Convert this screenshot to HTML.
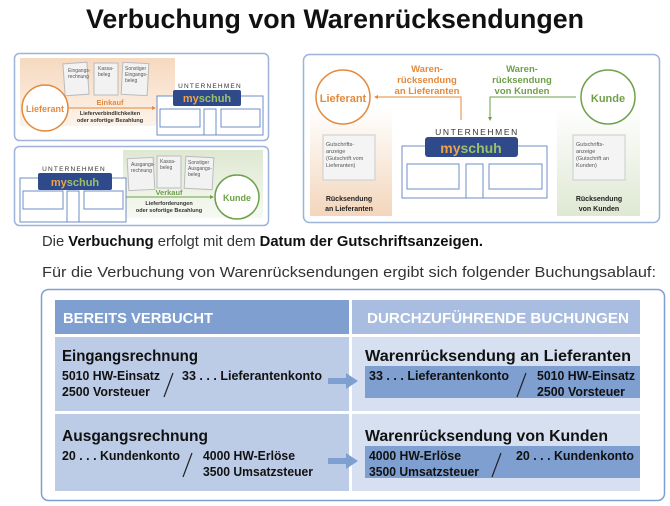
<!DOCTYPE html>
<html><head><meta charset="utf-8"><style>
html,body{margin:0;padding:0;background:#fff;}
svg{display:block;font-family:"Liberation Sans",sans-serif;}
</style></head><body>
<svg width="670" height="506" viewBox="0 0 670 506" xmlns="http://www.w3.org/2000/svg">
<defs>
<linearGradient id="pe" x1="0" y1="0" x2="0" y2="1"><stop offset="0" stop-color="#f6d9bf"/><stop offset="1" stop-color="#fdf3ea"/></linearGradient>
<linearGradient id="pe2" x1="0" y1="0" x2="1" y2="0"><stop offset="0" stop-color="#f6dcc3"/><stop offset="1" stop-color="#fff8f2"/></linearGradient>
<linearGradient id="gr" x1="0" y1="0" x2="0" y2="1"><stop offset="0" stop-color="#dfe8d2"/><stop offset="1" stop-color="#f6f9f2"/></linearGradient>
<linearGradient id="pv" x1="0" y1="0" x2="0" y2="1"><stop offset="0" stop-color="#fff"/><stop offset="1" stop-color="#f3d6bc"/></linearGradient>
<linearGradient id="gv" x1="0" y1="0" x2="0" y2="1"><stop offset="0" stop-color="#fff"/><stop offset="1" stop-color="#dfe8d3"/></linearGradient>
</defs>
<text x="335" y="28" text-anchor="middle" font-size="27" font-weight="bold" fill="#111" textLength="498" lengthAdjust="spacingAndGlyphs">Verbuchung von Warenrücksendungen</text>

<!-- Panel 1 -->
<rect x="14.5" y="53.5" width="254" height="87" rx="5" fill="#fff" stroke="#9db3da" stroke-width="1.5"/>
<rect x="20" y="58" width="155" height="68" fill="url(#pe)"/>
<g font-size="5" fill="#555">
<rect x="64" y="63" width="24" height="32" fill="#f2f2f2" stroke="#bbb" transform="rotate(-4 76 79)"/><text x="68" y="72">Eingangs-</text><text x="68" y="78">rechnung</text>
<rect x="94" y="63" width="24" height="32" fill="#f2f2f2" stroke="#bbb"/><text x="98" y="70">Kassa-</text><text x="98" y="76">beleg</text>
<rect x="122" y="63" width="26" height="32" fill="#f2f2f2" stroke="#bbb" transform="rotate(3 135 79)"/><text x="125" y="70">Sonstiger</text><text x="125" y="76">Eingangs-</text><text x="125" y="82">beleg</text>
</g>
<circle cx="45" cy="108" r="23" fill="#fff" stroke="#e38a3e" stroke-width="1.5"/>
<text x="45" y="112" text-anchor="middle" font-size="9" font-weight="bold" fill="#e38a3e">Lieferant</text>
<line x1="68" y1="108" x2="153" y2="108" stroke="#e38a3e"/><path d="M156 108l-4-2v4z" fill="#e38a3e"/>
<text x="110" y="105" text-anchor="middle" font-size="7.5" font-weight="bold" fill="#e38a3e">Einkauf</text>
<text x="110" y="115" text-anchor="middle" font-size="5.5" font-weight="bold" fill="#333">Lieferverbindlichkeiten</text>
<text x="110" y="122" text-anchor="middle" font-size="5.5" font-weight="bold" fill="#333">oder sofortige Bezahlung</text>
<rect x="157" y="96" width="106" height="39" fill="#fff" stroke="#6f8cc4"/>
<rect x="160" y="109" width="40" height="18" fill="#fff" stroke="#6f8cc4"/><rect x="204" y="109" width="12" height="26" fill="#fff" stroke="#6f8cc4"/><rect x="221" y="109" width="39" height="18" fill="#fff" stroke="#6f8cc4"/>
<text x="210" y="88" text-anchor="middle" font-size="6.5" fill="#333" letter-spacing="1.2">UNTERNEHMEN</text>
<rect x="173" y="90" width="68" height="16" rx="2" fill="#2e4a8a"/>
<text x="207" y="102" text-anchor="middle" font-size="11" font-weight="bold"><tspan fill="#f0a24a">my</tspan><tspan fill="#9cc06a">schuh</tspan></text>

<!-- Panel 2 -->
<rect x="14.5" y="146.5" width="254" height="79" rx="5" fill="#fff" stroke="#9db3da" stroke-width="1.5"/>
<rect x="123" y="150" width="140" height="68" fill="url(#gr)"/>
<g font-size="5" fill="#555">
<rect x="128" y="158" width="26" height="32" fill="#f2f2f2" stroke="#bbb" transform="rotate(-3 141 174)"/><text x="131" y="166">Ausgangs-</text><text x="131" y="172">rechnung</text>
<rect x="157" y="156" width="24" height="32" fill="#f2f2f2" stroke="#bbb"/><text x="160" y="163">Kassa-</text><text x="160" y="169">beleg</text>
<rect x="185" y="157" width="28" height="32" fill="#f2f2f2" stroke="#bbb" transform="rotate(3 199 173)"/><text x="188" y="164">Sonstiger</text><text x="188" y="170">Ausgangs-</text><text x="188" y="176">beleg</text>
</g>
<rect x="20" y="178" width="106" height="44" fill="#fff" stroke="#6f8cc4"/>
<rect x="23" y="191" width="40" height="18" fill="#fff" stroke="#6f8cc4"/><rect x="67" y="191" width="12" height="31" fill="#fff" stroke="#6f8cc4"/><rect x="84" y="191" width="39" height="18" fill="#fff" stroke="#6f8cc4"/>
<text x="74" y="171" text-anchor="middle" font-size="6.5" fill="#333" letter-spacing="1.2">UNTERNEHMEN</text>
<rect x="38" y="173" width="74" height="17" rx="2" fill="#2e4a8a"/>
<text x="75" y="186" text-anchor="middle" font-size="11" font-weight="bold"><tspan fill="#f0a24a">my</tspan><tspan fill="#9cc06a">schuh</tspan></text>
<line x1="126" y1="197" x2="210" y2="197" stroke="#6ea04a"/><path d="M214 197l-4-2v4z" fill="#6ea04a"/>
<text x="169" y="195" text-anchor="middle" font-size="7.5" font-weight="bold" fill="#6ea04a">Verkauf</text>
<text x="169" y="205" text-anchor="middle" font-size="5.5" font-weight="bold" fill="#333">Lieferforderungen</text>
<text x="169" y="212" text-anchor="middle" font-size="5.5" font-weight="bold" fill="#333">oder sofortige Bezahlung</text>
<circle cx="237" cy="197" r="22" fill="#fff" stroke="#6ea04a" stroke-width="1.5"/>
<text x="237" y="201" text-anchor="middle" font-size="9" font-weight="bold" fill="#6ea04a">Kunde</text>

<!-- Right panel -->
<rect x="303.5" y="54.5" width="356" height="168" rx="6" fill="#fff" stroke="#9db3da" stroke-width="1.5"/>
<rect x="310" y="108" width="82" height="108" fill="url(#pv)"/>
<rect x="557" y="108" width="83" height="108" fill="url(#gv)"/>
<circle cx="343" cy="97" r="27" fill="#fff" stroke="#e38a3e" stroke-width="1.5"/>
<text x="343" y="102" text-anchor="middle" font-size="11" font-weight="bold" fill="#e38a3e">Lieferant</text>
<circle cx="608" cy="97" r="27" fill="#fff" stroke="#6ea04a" stroke-width="1.5"/>
<text x="608" y="102" text-anchor="middle" font-size="11" font-weight="bold" fill="#6ea04a">Kunde</text>
<g font-size="9.5" font-weight="bold" text-anchor="middle" fill="#e38a3e"><text x="427" y="72">Waren-</text><text x="427" y="83">rücksendung</text><text x="427" y="94">an Lieferanten</text></g>
<path d="M461 120V97H378" fill="none" stroke="#e38a3e"/><path d="M374 97l4-2v4z" fill="#e38a3e"/>
<g font-size="9.5" font-weight="bold" text-anchor="middle" fill="#6ea04a"><text x="522" y="72">Waren-</text><text x="522" y="83">rücksendung</text><text x="522" y="94">von Kunden</text></g>
<path d="M576 97H490V117" fill="none" stroke="#6ea04a"/><path d="M490 121l-2-4h4z" fill="#6ea04a"/>
<rect x="402" y="146" width="145" height="52" fill="#fff" stroke="#6f8cc4"/>
<rect x="407" y="164" width="52" height="25" fill="#fff" stroke="#6f8cc4"/><rect x="466" y="164" width="17" height="34" fill="#fff" stroke="#6f8cc4"/><rect x="489" y="164" width="53" height="25" fill="#fff" stroke="#6f8cc4"/>
<text x="477" y="135" text-anchor="middle" font-size="8.5" fill="#333" letter-spacing="1.6">UNTERNEHMEN</text>
<rect x="425" y="137" width="93" height="20" rx="3" fill="#2e4a8a"/>
<text x="471" y="153" text-anchor="middle" font-size="14" font-weight="bold"><tspan fill="#f0a24a">my</tspan><tspan fill="#9cc06a">schuh</tspan></text>
<rect x="323" y="135" width="52" height="45" fill="#f4f4f4" stroke="#ccc"/>
<g font-size="5.5" fill="#555"><text x="326" y="146">Gutschrifts-</text><text x="326" y="153">anzeige</text><text x="326" y="160">(Gutschrift vom</text><text x="326" y="167">Lieferanten)</text></g>
<rect x="573" y="135" width="52" height="45" fill="#f4f4f4" stroke="#ccc"/>
<g font-size="5.5" fill="#555"><text x="576" y="146">Gutschrifts-</text><text x="576" y="153">anzeige</text><text x="576" y="160">(Gutschrift an</text><text x="576" y="167">Kunden)</text></g>
<g font-size="7" font-weight="bold" text-anchor="middle" fill="#222"><text x="349" y="201">Rücksendung</text><text x="349" y="211">an Lieferanten</text><text x="599" y="201">Rücksendung</text><text x="599" y="211">von Kunden</text></g>

<!-- Texts -->
<text x="42" y="246" font-size="14.5" fill="#333" textLength="441" lengthAdjust="spacingAndGlyphs">Die <tspan font-weight="bold" fill="#111">Verbuchung</tspan> erfolgt mit dem <tspan font-weight="bold" fill="#111">Datum der Gutschriftsanzeigen.</tspan></text>
<text x="42" y="277" font-size="14.5" fill="#333" textLength="614" lengthAdjust="spacingAndGlyphs">Für die Verbuchung von Warenrücksendungen ergibt sich folgender Buchungsablauf:</text>

<!-- Table -->
<rect x="41.5" y="289.5" width="623" height="211" rx="7" fill="#fff" stroke="#7f9fd0" stroke-width="1.5"/>
<rect x="55" y="300" width="294" height="34" fill="#7f9fd0"/>
<rect x="352" y="300" width="288" height="34" fill="#a9bde0"/>
<rect x="55" y="337" width="294" height="74" fill="#bccbe6"/>
<rect x="352" y="337" width="288" height="74" fill="#d6e0f1"/>
<rect x="55" y="414" width="294" height="77" fill="#bccbe6"/>
<rect x="352" y="414" width="288" height="77" fill="#d6e0f1"/>
<text x="63" y="323" font-size="15" font-weight="bold" fill="#fff" textLength="150" lengthAdjust="spacingAndGlyphs">BEREITS VERBUCHT</text>
<text x="367" y="323" font-size="15" font-weight="bold" fill="#fff" textLength="262" lengthAdjust="spacingAndGlyphs">DURCHZUFÜHRENDE BUCHUNGEN</text>
<rect x="365" y="366" width="275" height="32" fill="#7f9fd0"/>
<rect x="365" y="446" width="275" height="32" fill="#7f9fd0"/>
<path d="M328 378h18v-5l12 8-12 8v-5h-18z" fill="#7f9fd0"/>
<path d="M328 458h18v-5l12 8-12 8v-5h-18z" fill="#7f9fd0"/>
<g fill="#111" font-weight="bold">
<text x="62" y="361" font-size="15.5" textLength="136" lengthAdjust="spacingAndGlyphs">Eingangsrechnung</text>
<text x="365" y="361" font-size="15.5" textLength="266" lengthAdjust="spacingAndGlyphs">Warenrücksendung an Lieferanten</text>
<text x="62" y="441" font-size="15.5" textLength="146" lengthAdjust="spacingAndGlyphs">Ausgangsrechnung</text>
<text x="365" y="441" font-size="15.5" textLength="243" lengthAdjust="spacingAndGlyphs">Warenrücksendung von Kunden</text>
<g font-size="13">
<text x="62" y="380" textLength="98" lengthAdjust="spacingAndGlyphs">5010 HW-Einsatz</text>
<text x="62" y="396" textLength="88" lengthAdjust="spacingAndGlyphs">2500 Vorsteuer</text>
<text x="182" y="380" textLength="140" lengthAdjust="spacingAndGlyphs">33 . . . Lieferantenkonto</text>
<text x="369" y="380" textLength="140" lengthAdjust="spacingAndGlyphs">33 . . . Lieferantenkonto</text>
<text x="537" y="380" textLength="98" lengthAdjust="spacingAndGlyphs">5010 HW-Einsatz</text>
<text x="537" y="396" textLength="88" lengthAdjust="spacingAndGlyphs">2500 Vorsteuer</text>
<text x="62" y="460" textLength="118" lengthAdjust="spacingAndGlyphs">20 . . . Kundenkonto</text>
<text x="203" y="460" textLength="92" lengthAdjust="spacingAndGlyphs">4000 HW-Erlöse</text>
<text x="203" y="476" textLength="110" lengthAdjust="spacingAndGlyphs">3500 Umsatzsteuer</text>
<text x="369" y="460" textLength="92" lengthAdjust="spacingAndGlyphs">4000 HW-Erlöse</text>
<text x="369" y="476" textLength="110" lengthAdjust="spacingAndGlyphs">3500 Umsatzsteuer</text>
<text x="516" y="460" textLength="118" lengthAdjust="spacingAndGlyphs">20 . . . Kundenkonto</text>
</g></g>
<g stroke="#222" stroke-width="1.2">
<line x1="173" y1="373" x2="164" y2="397"/>
<line x1="526" y1="373" x2="517" y2="397"/>
<line x1="192" y1="453" x2="183" y2="477"/>
<line x1="501" y1="453" x2="492" y2="477"/>
</g>
</svg>
</body></html>
